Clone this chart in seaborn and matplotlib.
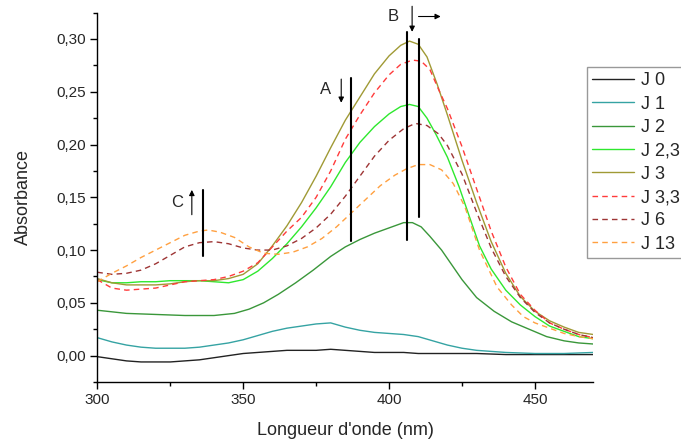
import matplotlib
matplotlib.use("Agg")
import matplotlib.pyplot as plt
from matplotlib.ticker import MultipleLocator, FuncFormatter
import seaborn as sns

# ---------------- data ----------------
labels = ["J 0", "J 1", "J 2", "J 2,3", "J 3", "J 3,3", "J 6", "J 13"]
colors = ["#222222", "#35a3a3", "#3a973a", "#2ee82e", "#a09a35", "#ff3b3b", "#9e3535", "#ffa040"]
dashed = [False, False, False, False, False, True, True, True]

nm_j0 = [300, 305, 310, 315, 320, 325, 330, 335, 340, 345, 350, 355, 360, 365, 370,
         375, 380, 385, 390, 395, 400, 405, 410, 415, 420, 430, 440, 450, 460, 470]
a_j0 = [-0.001, -0.003, -0.005, -0.006, -0.006, -0.006, -0.005, -0.004, -0.002, 0.000,
        0.002, 0.003, 0.004, 0.005, 0.005, 0.005, 0.006, 0.005, 0.004, 0.003, 0.003,
        0.003, 0.002, 0.002, 0.002, 0.002, 0.001, 0.001, 0.001, 0.001]

nm_j1 = [300, 305, 310, 315, 320, 325, 330, 335, 340, 345, 350, 355, 360, 365, 370,
         375, 380, 385, 390, 395, 400, 405, 410, 415, 420, 425, 430, 440, 450, 460, 470]
a_j1 = [0.017, 0.013, 0.010, 0.008, 0.007, 0.007, 0.007, 0.008, 0.010, 0.012, 0.015,
        0.019, 0.023, 0.026, 0.028, 0.030, 0.031, 0.027, 0.024, 0.022, 0.021, 0.020,
        0.018, 0.014, 0.010, 0.007, 0.005, 0.003, 0.002, 0.002, 0.003]

nm_j2 = [300, 310, 320, 330, 340, 347, 352, 357, 362, 368, 374, 380, 385, 390, 395,
         400, 405, 408, 411, 414, 418, 421, 425, 430, 436, 442, 448, 454, 460, 465, 470]
a_j2 = [0.043, 0.040, 0.039, 0.038, 0.038, 0.040, 0.044, 0.050, 0.058, 0.069, 0.081,
        0.094, 0.103, 0.110, 0.116, 0.121, 0.126, 0.126, 0.122, 0.113, 0.100, 0.088,
        0.072, 0.055, 0.042, 0.032, 0.025, 0.018, 0.014, 0.012, 0.011]

nm_j23 = [300, 305, 310, 315, 320, 325, 330, 335, 340, 345, 350, 355, 360, 365, 370,
          375, 380, 385, 390, 395, 400, 404, 407, 410, 413, 416, 420, 424, 428, 431,
          435, 440, 445, 450, 455, 460, 465, 470]
a_j23 = [0.072, 0.069, 0.069, 0.070, 0.070, 0.071, 0.071, 0.071, 0.070, 0.069, 0.072,
         0.080, 0.092, 0.106, 0.122, 0.140, 0.160, 0.183, 0.202, 0.217, 0.229, 0.236,
         0.238, 0.236, 0.225, 0.210, 0.188, 0.160, 0.128, 0.104, 0.082, 0.062, 0.048,
         0.037, 0.028, 0.023, 0.018, 0.016]

nm_j3 = [300, 305, 310, 315, 320, 325, 330, 335, 340, 345, 350, 355, 360, 365, 370,
         375, 380, 385, 390, 395, 400, 404, 407, 410, 413, 416.5, 420, 425, 430, 435,
         440, 445, 450, 455, 460, 465, 470]
a_j3 = [0.073, 0.069, 0.067, 0.067, 0.067, 0.068, 0.070, 0.071, 0.071, 0.073, 0.077,
        0.087, 0.104, 0.123, 0.145, 0.170, 0.197, 0.223, 0.245, 0.267, 0.284, 0.294,
        0.298, 0.295, 0.283, 0.257, 0.228, 0.185, 0.145, 0.108, 0.078, 0.056, 0.042,
        0.033, 0.027, 0.022, 0.020]

nm_j33 = [300, 305, 310, 315, 320, 325, 330, 335, 340, 345, 350, 355, 360, 365, 370,
          375, 380, 385, 390, 395, 400, 404, 408, 411, 414, 417, 420, 425, 430, 435,
          440, 445, 450, 455, 460, 465, 470]
a_j33 = [0.072, 0.064, 0.062, 0.063, 0.064, 0.067, 0.070, 0.071, 0.072, 0.075, 0.080,
         0.088, 0.103, 0.118, 0.131, 0.150, 0.175, 0.205, 0.228, 0.249, 0.266, 0.276,
         0.280, 0.279, 0.271, 0.252, 0.234, 0.198, 0.158, 0.118, 0.084, 0.058, 0.043,
         0.031, 0.025, 0.020, 0.017]

nm_j6 = [300, 305, 310, 315, 320, 325, 330, 335, 340, 345, 350, 355, 360, 365, 370,
         375, 380, 385, 390, 395, 400, 405, 409, 413, 417, 420, 425, 430, 435, 440,
         445, 450, 455, 460, 465, 470]
a_j6 = [0.079, 0.077, 0.078, 0.081, 0.087, 0.095, 0.103, 0.107, 0.108, 0.106, 0.102,
        0.100, 0.100, 0.104, 0.111, 0.121, 0.134, 0.151, 0.170, 0.189, 0.204, 0.215,
        0.220, 0.218, 0.210, 0.199, 0.172, 0.136, 0.102, 0.075, 0.055, 0.041, 0.031,
        0.025, 0.020, 0.017]

nm_j13 = [300, 305, 310, 315, 320, 325, 330, 335, 338, 342, 347, 352, 357, 362, 367,
          372, 377, 382, 387, 392, 397, 402, 406, 410, 414, 418, 422, 426, 431, 437,
          442, 446, 450, 455, 460, 465, 470]
a_j13 = [0.070, 0.078, 0.085, 0.093, 0.100, 0.107, 0.114, 0.118, 0.119, 0.117, 0.112,
         0.103, 0.097, 0.096, 0.098, 0.103, 0.111, 0.122, 0.135, 0.148, 0.161, 0.171,
         0.177, 0.181, 0.181, 0.176, 0.163, 0.141, 0.100, 0.065, 0.048, 0.037, 0.031,
         0.026, 0.021, 0.018, 0.016]

series_x = [nm_j0, nm_j1, nm_j2, nm_j23, nm_j3, nm_j33, nm_j6, nm_j13]
series_y = [a_j0, a_j1, a_j2, a_j23, a_j3, a_j33, a_j6, a_j13]

# annotation marks (wavelength, absorbance from, absorbance to)
line_a = (387.0, 0.109, 0.263)
line_b1 = (406.2, 0.110, 0.3065)
line_b2 = (410.1, 0.131, 0.300)
line_c = (336.1, 0.094, 0.157)

# ---------------- style ----------------
sns.set_style("ticks")
plt.rcParams["font.family"] = ["Liberation Sans", "DejaVu Sans"]

fig = plt.figure(figsize=(6.81, 4.41), dpi=100)
W, H = 681.0, 441.0
ax = fig.add_axes([97.3 / W, 1 - 382.0 / H, (593.3 - 97.3) / W, (382.0 - 12.6) / H])

for xs, ys, lab, col, d in zip(series_x, series_y, labels, colors, dashed):
    sns.lineplot(x=xs, y=ys, ax=ax, color=col, linewidth=1.0, label=lab,
                 estimator=None, sort=False)
    ln = ax.get_lines()[-1]
    if d:
        ln.set_dashes([4, 3])

ax.set_xlim(300, 470)
ax.set_ylim(-0.025, 0.325)
ax.xaxis.set_major_locator(MultipleLocator(50))
ax.xaxis.set_minor_locator(MultipleLocator(25))
ax.yaxis.set_major_locator(MultipleLocator(0.05))
ax.yaxis.set_minor_locator(MultipleLocator(0.025))
ax.yaxis.set_major_formatter(FuncFormatter(lambda v, p: f"{v:.2f}".replace(".", ",").replace("-0,00", "0,00")))
ax.tick_params(axis="both", which="major", direction="out", length=5, width=1.0,
               labelsize=11, color="black", pad=3)
ax.tick_params(axis="both", which="minor", direction="out", length=3, width=1.0, color="black")
for s in ["top", "right"]:
    ax.spines[s].set_visible(False)
for s in ["left", "bottom"]:
    ax.spines[s].set_linewidth(1.0)
    ax.spines[s].set_color("black")

ax.set_xlabel("Longueur d'onde (nm)", fontsize=13, labelpad=11)
ax.set_ylabel("Absorbance", fontsize=13, labelpad=18)

# vertical marker lines
for (xv, y0, y1) in [line_a, line_b1, line_b2, line_c]:
    ax.plot([xv, xv], [y0, y1], color="black", linewidth=1.5, clip_on=False)

arrow = dict(arrowstyle="-|>", color="black", lw=0.8, mutation_scale=8, shrinkA=0, shrinkB=0)
ax.annotate("", xy=(383.6, 0.2396), xytext=(383.6, 0.262), arrowprops=arrow, annotation_clip=False)
ax.annotate("", xy=(407.9, 0.3068), xytext=(407.9, 0.331), arrowprops=arrow, annotation_clip=False)
ax.annotate("", xy=(417.7, 0.3213), xytext=(410.1, 0.3213), arrowprops=arrow, annotation_clip=False)
ax.annotate("", xy=(332.4, 0.157), xytext=(332.4, 0.1335), arrowprops=arrow, annotation_clip=False)
ax.text(378.1, 0.252, "A", fontsize=12, ha="center", va="center")
ax.text(401.5, 0.321, "B", fontsize=12, ha="center", va="center", clip_on=False)
ax.text(327.4, 0.145, "C", fontsize=12, ha="center", va="center")

handles, labs = ax.get_legend_handles_labels()
leg = ax.legend(handles, labs, loc="upper left", bbox_to_anchor=(587 / W, 1 - 67 / H),
                bbox_transform=fig.transFigure, borderaxespad=0, fontsize=13,
                frameon=True, fancybox=False, framealpha=1, edgecolor="#999999",
                handlelength=2.33, handletextpad=0.35, labelspacing=0.35, borderpad=0.3)
leg.get_frame().set_linewidth(1.0)

fig.savefig("out.png", dpi=100)
